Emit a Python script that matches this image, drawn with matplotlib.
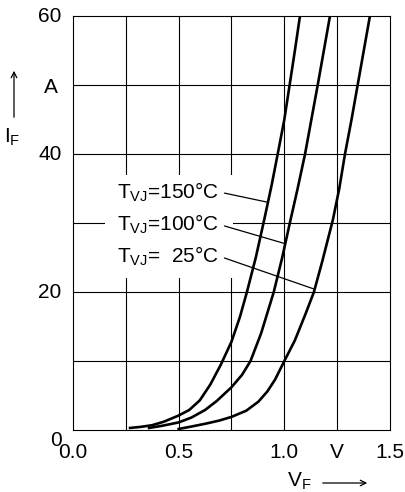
import numpy as np
import matplotlib
matplotlib.use("Agg")
import matplotlib.pyplot as plt
from matplotlib.patches import Rectangle

plt.rcParams['font.family'] = ['Liberation Sans', 'DejaVu Sans']
plt.rcParams['mathtext.default'] = 'regular'

# forward characteristics
v_150 = [0.27, 0.32, 0.375, 0.43, 0.5, 0.55, 0.6, 0.65, 0.70, 0.75, 0.79,
         0.823, 0.865, 0.905, 0.94, 0.975, 1.0, 1.025, 1.05, 1.074]
i_150 = [0.3, 0.45, 0.7, 1.2, 2.1, 2.9, 4.3, 6.6, 9.5, 12.8, 16.4,
         20, 25, 30.5, 35.5, 41, 45, 50, 55, 60]

v_100 = [0.36, 0.42, 0.5, 0.56, 0.625, 0.68, 0.75, 0.80, 0.84, 0.89,
         0.95, 0.99, 1.026, 1.063, 1.098, 1.128, 1.158, 1.187, 1.216]
i_100 = [0.3, 0.6, 1.1, 1.8, 2.9, 4.2, 6.2, 8.0, 10, 14,
         20, 25, 30, 35, 40, 45, 50, 55, 60]

v_25 = [0.5, 0.56, 0.625, 0.69, 0.75, 0.82, 0.877, 0.92, 0.956, 1.0, 1.05,
        1.1, 1.14, 1.18, 1.23, 1.26, 1.287, 1.318, 1.347, 1.376, 1.405]
i_25 = [0.15, 0.5, 0.9, 1.35, 1.9, 2.8, 4.1, 5.6, 7.3, 10, 13,
        16.8, 20, 24.5, 30.5, 35, 40, 45, 50, 55, 60]

labels = [r'T$_{VJ}$=150°C', r'T$_{VJ}$=100°C', r'T$_{VJ}$=  25°C']
label_i = [33, 27, 20.4]   # where the leader lines touch the curves

x_ticks = [0.0, 0.5, 1.0, 1.5]
x_ticklabels = ['0.0', '0.5', '1.0', '1.5']
y_ticks = [0, 20, 40, 60]

fig = plt.figure(figsize=(4.06, 4.92), dpi=100)
ax = fig.add_axes([73/406, 1-430/492, 317/406, 414/492])
ax.set_xlim(0, 1.5)
ax.set_ylim(0, 60)

# grid
for gx in np.arange(0.25, 1.5, 0.25):
    ax.axvline(gx, color='black', lw=0.8, zorder=1)
for gy in np.arange(10, 60, 10):
    ax.axhline(gy, color='black', lw=0.8, zorder=1)
for s in ax.spines.values():
    s.set_linewidth(0.8)
ax.set_xticks([])
ax.set_yticks([])

# white box behind the labels
ax.add_patch(Rectangle((0.151, 22.0), 0.606, 15.0, facecolor='white',
                       edgecolor='none', zorder=2))

curves = [(v_150, i_150), (v_100, i_100), (v_25, i_25)]
for v, i in curves:
    ax.plot(v, i, color='black', lw=1.9, zorder=3, solid_joinstyle='round')

# labels with leader lines
text_y = [34.5, 29.8, 25.2]
for (v, i), lab, li, ty in zip(curves, labels, label_i, text_y):
    xv = np.interp(li, i, v)
    ax.annotate(lab, xy=(xv, li), xytext=(0.208, ty), ha='left', va='center',
                fontsize=15, zorder=4,
                arrowprops=dict(arrowstyle='-', lw=0.9, color='black',
                                shrinkA=2, shrinkB=0, relpos=(1, 0.5)))

# tick labels
fs = 15
for t, l in zip(x_ticks, x_ticklabels):
    ax.text(t, -3.3, l, ha='center', va='center', fontsize=fs, clip_on=False)
ax.text(1.25, -3.3, 'V', ha='center', va='center', fontsize=fs, clip_on=False)
for t in y_ticks:
    off = -1.5 if t == 0 else 0
    ax.text(-0.055, t + off, str(t), ha='right', va='center', fontsize=fs, clip_on=False)
ax.text(-0.105, 49.6, 'A', ha='center', va='center', fontsize=fs, clip_on=False)

# axis names with arrows
fig.text(12/406, 1-137/492, r'I$_F$', ha='center', va='center', fontsize=fs)
ax.annotate('', xy=(14/406, 1-68/492), xytext=(14/406, 1-120/492),
            xycoords='figure fraction', textcoords='figure fraction',
            arrowprops=dict(arrowstyle='->', lw=0.9, color='black'))
fig.text(299/406, 1-481/492, r'V$_F$', ha='center', va='center', fontsize=fs)
ax.annotate('', xy=(370/406, 1-483/492), xytext=(320/406, 1-483/492),
            xycoords='figure fraction', textcoords='figure fraction',
            arrowprops=dict(arrowstyle='->', lw=0.9, color='black'))

fig.savefig('out.png', dpi=100)
